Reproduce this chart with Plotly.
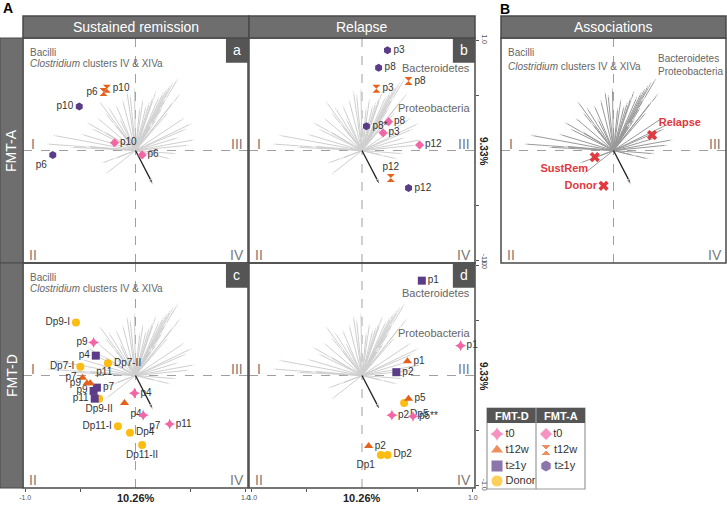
import plotly.graph_objects as go

W, H = 727, 508
FONT = "Arial, Liberation Sans, sans-serif"

# ---------------- DATA ----------------
# species loading vectors (shared by every biplot)
spec_x = [0.39, 0.35, 0.32, 0.41, 0.29, 0.26, 0.22, 0.19, 0.16, 0.13, 0.10, 0.07, 0.04, 0.25, 0.30,
          0.20, 0.45, 0.52, 0.47, 0.55, 0.50, 0.40, 0.38, 0.33, 0.15, 0.35, 0.28,
          -0.01, -0.05, -0.12, -0.18, -0.25, -0.33, -0.28, -0.35, -0.45, -0.40, -0.30, -0.50,
          -0.76, -0.82, -0.60, -0.45, -0.08, -0.15, -0.20, -0.32, -0.28, -0.20, 0.20]
spec_y = [0.66, 0.63, 0.60, 0.52, 0.57, 0.54, 0.50, 0.55, 0.49, 0.45, 0.42, 0.48, 0.40, 0.40, 0.35,
          0.30, 0.30, 0.25, 0.20, 0.10, 0.05, 0.12, -0.03, -0.08, 0.25, 0.45, 0.48,
          0.58, 0.52, 0.47, 0.42, 0.40, 0.45, 0.35, 0.30, 0.26, 0.20, 0.18, 0.15,
          0.14, 0.06, 0.03, 0.04, 0.55, 0.30, 0.25, -0.12, -0.22, -0.08, -0.05]
driver_x = [0.16]
driver_y = [-0.31]

# Panel a: FMT-A, sustained remission
a_t0_x, a_t0_y, a_t0_lab = [-0.19, 0.06], [0.07, -0.04], ["p10", "p6"]
a_t12_x, a_t12_y, a_t12_lab = [-0.29, -0.26], [0.53, 0.56], ["p6", "p10"]
a_t1y_x, a_t1y_y, a_t1y_lab = [-0.51, -0.75], [0.40, -0.04], ["p10", "p6"]

# Panel b: FMT-A, relapse
b_t0_x, b_t0_y, b_t0_lab = [0.24, 0.19, 0.52], [0.26, 0.16, 0.05], ["p8", "p3", "p12"]
b_t12_x, b_t12_y, b_t12_lab = [0.13, 0.42, 0.26], [0.56, 0.63, -0.25], ["p3", "p8", "p12"]
b_t1y_x, b_t1y_y, b_t1y_lab = [0.23, 0.15, 0.04, 0.42], [0.91, 0.75, 0.22, -0.34], ["p3", "p8", "p8*", "p12"]

# Panel c: FMT-D, sustained remission
c_t0_x, c_t0_y, c_t0_lab = [-0.38, -0.01, 0.07, 0.31], [0.30, -0.16, -0.36, -0.44], ["p9", "p4", "p7", "p11"]
c_t12_x, c_t12_y, c_t12_lab = [-0.48, -0.44, -0.41, -0.10], [-0.02, -0.07, -0.07, -0.25], ["p7", "p9", "p11", "p4"]
c_t1y_x, c_t1y_y, c_t1y_lab = [-0.36, -0.35, -0.38, -0.37], [0.18, -0.11, -0.14, -0.21], ["p4", "p7", "p9", "p11"]
c_don_x = [-0.54, -0.50, -0.25, -0.33, -0.16, -0.05, 0.06]
c_don_y = [0.48, 0.08, 0.11, -0.21, -0.46, -0.52, -0.63]
c_don_lab = ["Dp9-I", "Dp7-I", "Dp7-II", "Dp9-II", "Dp11-I", "Dp4", "Dp11-II"]

# Panel d: FMT-D, relapse
d_t0_x, d_t0_y, d_t0_lab = [0.89, 0.27, 0.46], [0.27, -0.36, -0.37], ["p1", "p2", "p5**"]
d_t12_x, d_t12_y, d_t12_lab = [0.41, 0.42, 0.06], [0.13, -0.21, -0.64], ["p1", "p5", "p2"]
d_t1y_x, d_t1y_y, d_t1y_lab = [0.54, 0.31], [0.86, 0.03], ["p1", "p2"]
d_don_x, d_don_y, d_don_lab = [0.38, 0.17, 0.23], [-0.25, -0.72, -0.72], ["Dp5", "Dp1", "Dp2"]

# Panel B: associations (centroids)
assoc_x = [0.35, -0.17, -0.09]
assoc_y = [0.14, -0.06, -0.32]
assoc_lab = ["Relapse", "SustRem", "Donor"]

x_pct, y_pct = "10.26%", "9.33%"
legend_rows = ["t0", "t12w", "t≥1y", "Donor"]

# ---------------- STYLE ----------------
PINK, ORANGE, PURPLE, YELLOW, RED = "#f266a6", "#e5621c", "#5b3c88", "#fbbd13", "#e0393e"
HDR = "#6e6e6e"
FRAME = "#4a4a4a"

# panel boxes in pixels (x0, x1, y0(top), y1(bottom))
boxes = {
    "a": (23, 248, 38, 263),
    "b": (249, 475, 38, 263),
    "c": (23, 248, 263, 488),
    "d": (249, 475, 263, 488),
    "B": (501, 726, 38, 263),
}
axmap = {"a": "", "b": "2", "c": "3", "d": "4", "B": "5"}

def px(x): return x / W
def py(y): return 1 - y / H

fig = go.Figure()
R = 1.02

def vec_trace(xs, ys, color, n, width=1, size=4):
    X, Y, S = [], [], []
    for x, y in zip(xs, ys):
        X += [0, x, None]; Y += [0, y, None]; S += [0, size, 0]
    return go.Scatter(x=X, y=Y, mode="lines+markers",
                      line=dict(color=color, width=width),
                      marker=dict(symbol="arrow", size=S, angleref="previous", color=color),
                      xaxis="x" + n, yaxis="y" + n, hoverinfo="skip", showlegend=False)

def pts(xs, ys, labs, pos, symbol, color, size, n):
    return go.Scatter(x=xs, y=ys, mode="markers+text", text=labs, textposition=pos,
                      textfont=dict(size=10, color="#333", family=FONT), cliponaxis=False,
                      marker=dict(symbol=symbol, color=color, size=size, line=dict(width=0)),
                      xaxis="x" + n, yaxis="y" + n, hoverinfo="skip", showlegend=False)

shapes, annots = [], []

def ann(text, xref, yref, x, y, size, color, xanchor="center", yanchor="middle", angle=0):
    annots.append(dict(text=text, xref=xref, yref=yref, x=x, y=y, showarrow=False,
                       xanchor=xanchor, yanchor=yanchor, textangle=angle,
                       font=dict(size=size, color=color, family=FONT)))

for key, (x0, x1, y0, y1) in boxes.items():
    n = axmap[key]
    col = "#999999" if key == "B" else "#cfcfcf"
    fig.add_trace(vec_trace(spec_x, spec_y, col, n))
    fig.add_trace(vec_trace(driver_x, driver_y, "#222222", n, width=1.3, size=6))
    xr = "x" + n + " domain" if n else "x domain"
    yr = "y" + n + " domain" if n else "y domain"
    xd = "x" + n if n else "x"
    yd = "y" + n if n else "y"
    shapes.append(dict(type="line", xref=xd, yref=yr, x0=0, x1=0, y0=0, y1=1,
                       line=dict(color="#a0a0a0", width=1, dash="dash"), layer="below"))
    shapes.append(dict(type="line", xref=xr, yref=yd, x0=0, x1=1, y0=0, y1=0,
                       line=dict(color="#a0a0a0", width=1, dash="dash"), layer="below"))
    shapes.append(dict(type="rect", xref="paper", yref="paper", x0=px(x0), x1=px(x1),
                       y0=py(y1), y1=py(y0), line=dict(color=FRAME, width=1.5)))
    for t, xx, yy in [("I", 0.045, 0.53), ("III", 0.95, 0.53), ("II", 0.045, 0.035), ("IV", 0.95, 0.035)]:
        ann(t, xr, yr, xx, yy, 14, "#7a7a7a")
    if key != "B":
        shapes.append(dict(type="rect", xref=xr, yref=yr, x0=0.902, x1=1, y0=0.89, y1=1,
                           fillcolor="#555555", line=dict(width=0)))
        ann(key, xr, yr, 0.951, 0.945, 14, "white")
    if key in ("a", "c", "B"):
        ann("Bacilli", xr, yr, 0.02, 0.935, 10, "#666", xanchor="left")
        ann("<i>Clostridium</i> clusters IV & XIVa", xr, yr, 0.02, 0.872 if key == "B" else 0.885,
            10, "#666", xanchor="left")
    if key in ("b", "d"):
        ann("Bacteroidetes", xr, yr, 0.985, 0.865, 11, "#666", xanchor="right")
        ann("Proteobacteria", xr, yr, 0.985, 0.688, 11, "#666", xanchor="right")
    if key == "B":
        ann("Bacteroidetes", xr, yr, 0.69, 0.91, 10, "#666", xanchor="left")
        ann("Proteobacteria", xr, yr, 0.69, 0.85, 10, "#666", xanchor="left")

# points
fig.add_trace(pts(a_t0_x, a_t0_y, a_t0_lab, ["middle right", "middle right"], "diamond", PINK, 7, ""))
fig.add_trace(pts(a_t12_x, a_t12_y, a_t12_lab, ["middle left", "middle right"], "hourglass", ORANGE, 8, ""))
fig.add_trace(pts(a_t1y_x, a_t1y_y, a_t1y_lab, ["middle left", "bottom left"], "hexagon", PURPLE, 8, ""))

fig.add_trace(pts(b_t0_x, b_t0_y, b_t0_lab, ["middle right"] * 3, "diamond", PINK, 7, "2"))
fig.add_trace(pts(b_t12_x, b_t12_y, b_t12_lab, ["middle right", "middle right", "top center"], "hourglass", ORANGE, 8, "2"))
fig.add_trace(pts(b_t1y_x, b_t1y_y, b_t1y_lab, ["middle right"] * 4, "hexagon", PURPLE, 8, "2"))

fig.add_trace(pts(c_don_x, c_don_y, c_don_lab,
                  ["middle left", "middle left", "middle right", "bottom center", "middle left", "middle right", "bottom center"],
                  "circle", YELLOW, 8, "3"))
fig.add_trace(pts(c_t1y_x, c_t1y_y, c_t1y_lab, ["middle left", "middle right", "middle left", "middle left"], "square", PURPLE, 8, "3"))
fig.add_trace(pts(c_t12_x, c_t12_y, c_t12_lab, ["middle left", "middle left", "top right", "bottom right"], "triangle-up", ORANGE, 8, "3"))
fig.add_trace(pts(c_t0_x, c_t0_y, c_t0_lab, ["middle left", "middle right", "bottom right", "middle right"], "star-diamond", PINK, 8, "3"))

fig.add_trace(pts(d_don_x, d_don_y, d_don_lab, ["bottom right", "bottom left", "middle right"], "circle", YELLOW, 8, "4"))
fig.add_trace(pts(d_t1y_x, d_t1y_y, d_t1y_lab, ["middle right"] * 2, "square", PURPLE, 8, "4"))
fig.add_trace(pts(d_t12_x, d_t12_y, d_t12_lab, ["middle right"] * 3, "triangle-up", ORANGE, 8, "4"))
fig.add_trace(pts(d_t0_x, d_t0_y, d_t0_lab, ["middle right"] * 3, "star-diamond", PINK, 8, "4"))

fig.add_trace(go.Scatter(x=assoc_x, y=assoc_y, mode="markers+text", text=["<b>%s</b>" % s for s in assoc_lab],
                         textposition=["top right", "bottom left", "middle left"], cliponaxis=False,
                         textfont=dict(size=11, color=RED, family=FONT),
                         marker=dict(symbol="x", color=RED, size=9, line=dict(width=0)),
                         xaxis="x5", yaxis="y5", hoverinfo="skip", showlegend=False))

# legend table (own axis in pixel units)
leg_sym_D = ["star-diamond", "triangle-up", "square", "circle"]
leg_col_D = [PINK, ORANGE, PURPLE, YELLOW]
leg_sym_A = ["diamond", "hourglass", "hexagon"]
leg_col_A = [PINK, ORANGE, PURPLE]
row_y = [434, 450, 466, 481]
fig.add_trace(go.Scatter(x=[497] * 4, y=row_y, mode="markers+text", text=legend_rows, textposition="middle right",
                         textfont=dict(size=11, color="#333", family=FONT), cliponaxis=False,
                         marker=dict(symbol=leg_sym_D, color=leg_col_D, size=[12, 12, 12, 12]),
                         xaxis="x6", yaxis="y6", hoverinfo="skip", showlegend=False))
fig.add_trace(go.Scatter(x=[546] * 3, y=row_y[:3], mode="markers+text", text=legend_rows[:3], textposition="middle right",
                         textfont=dict(size=11, color="#333", family=FONT), cliponaxis=False,
                         marker=dict(symbol=leg_sym_A, color=leg_col_A, size=[10, 11, 12]),
                         xaxis="x6", yaxis="y6", hoverinfo="skip", showlegend=False))
shapes.append(dict(type="rect", xref="paper", yref="paper", x0=px(487), x1=px(585), y0=py(489), y1=py(408),
                   line=dict(color="#999", width=1.2)))
shapes.append(dict(type="rect", xref="paper", yref="paper", x0=px(487), x1=px(585), y0=py(423), y1=py(408),
                   fillcolor="#555", line=dict(width=0)))
shapes.append(dict(type="line", xref="paper", yref="paper", x0=px(536), x1=px(536), y0=py(489), y1=py(408),
                   line=dict(color="#999", width=1.2)))
for t, xx in [("FMT-D", 511.5), ("FMT-A", 560.5)]:
    ann("<b>%s</b>" % t, "paper", "paper", px(xx), py(416), 11, "white")

# headers and side strips
for t, x0, x1 in [("Sustained remission", 23, 249), ("Relapse", 249, 475), ("Associations", 501, 726)]:
    shapes.append(dict(type="rect", xref="paper", yref="paper", x0=px(x0), x1=px(x1), y0=py(38), y1=py(16),
                       fillcolor=HDR, line=dict(color=FRAME, width=1.5)))
    ann(t, "paper", "paper", px((x0 + x1) / 2), py(27), 14, "white")
for t, y0, y1 in [("FMT-A", 38, 263), ("FMT-D", 263, 488)]:
    shapes.append(dict(type="rect", xref="paper", yref="paper", x0=0, x1=px(23), y0=py(y1), y1=py(y0),
                       fillcolor=HDR, line=dict(color=FRAME, width=1)))
    ann(t, "paper", "paper", px(11.5), py((y0 + y1) / 2), 14, "white", angle=-90)

ann("<b>A</b>", "paper", "paper", px(1), py(8), 14, "black", xanchor="left")
ann("<b>B</b>", "paper", "paper", px(498), py(9), 14, "black", xanchor="left")
for xx in (135.5, 362):
    ann("<b>%s</b>" % x_pct, "paper", "paper", px(xx), py(498), 11, "#222")
for yy in (151, 376):
    ann("<b>%s</b>" % y_pct, "paper", "paper", px(484), py(yy), 10, "#222", angle=90)

layout = dict(width=W, height=H, margin=dict(l=0, r=0, t=0, b=0), paper_bgcolor="white", plot_bgcolor="white",
              showlegend=False, shapes=shapes, annotations=annots, font=dict(family=FONT))

for key, (x0, x1, y0, y1) in boxes.items():
    n = axmap[key]
    xa = dict(domain=[px(x0), px(x1)], range=[-R, R], showgrid=False, zeroline=False, showticklabels=False,
              anchor="y" + n if n else "y", fixedrange=True, automargin=False)
    ya = dict(domain=[py(y1), py(y0)], range=[-R, R], showgrid=False, zeroline=False, showticklabels=False,
              anchor="x" + n if n else "x", fixedrange=True, automargin=False)
    if key in ("c", "d"):
        xa.update(ticks="outside", ticklen=3, tickcolor="#555", tickvals=[-1, -0.5, 0.5, 1],
                  ticktext=["-1.0", "", "", "1.0"], showticklabels=True,
                  tickfont=dict(size=7, color="#555", family=FONT))
    if key in ("b", "d", "B"):
        ya.update(side="right", ticks="outside", ticklen=3, tickcolor="#555", tickvals=[-1, -0.5, 0.5, 1],
                  ticktext=["-1.0", "", "", "1.0"], showticklabels=(key != "B"), tickangle=90,
                  tickfont=dict(size=7, color="#555", family=FONT))
    layout["xaxis" + n] = xa
    layout["yaxis" + n] = ya

layout["xaxis6"] = dict(domain=[px(487), px(585)], range=[487, 585], visible=False, anchor="y6", fixedrange=True)
layout["yaxis6"] = dict(domain=[py(489), py(408)], range=[489, 408], visible=False, anchor="x6", fixedrange=True)

fig.update_layout(**layout)
fig.write_html("out.html", config={"displayModeBar": False},
               post_script="document.body.style.margin='0';")
